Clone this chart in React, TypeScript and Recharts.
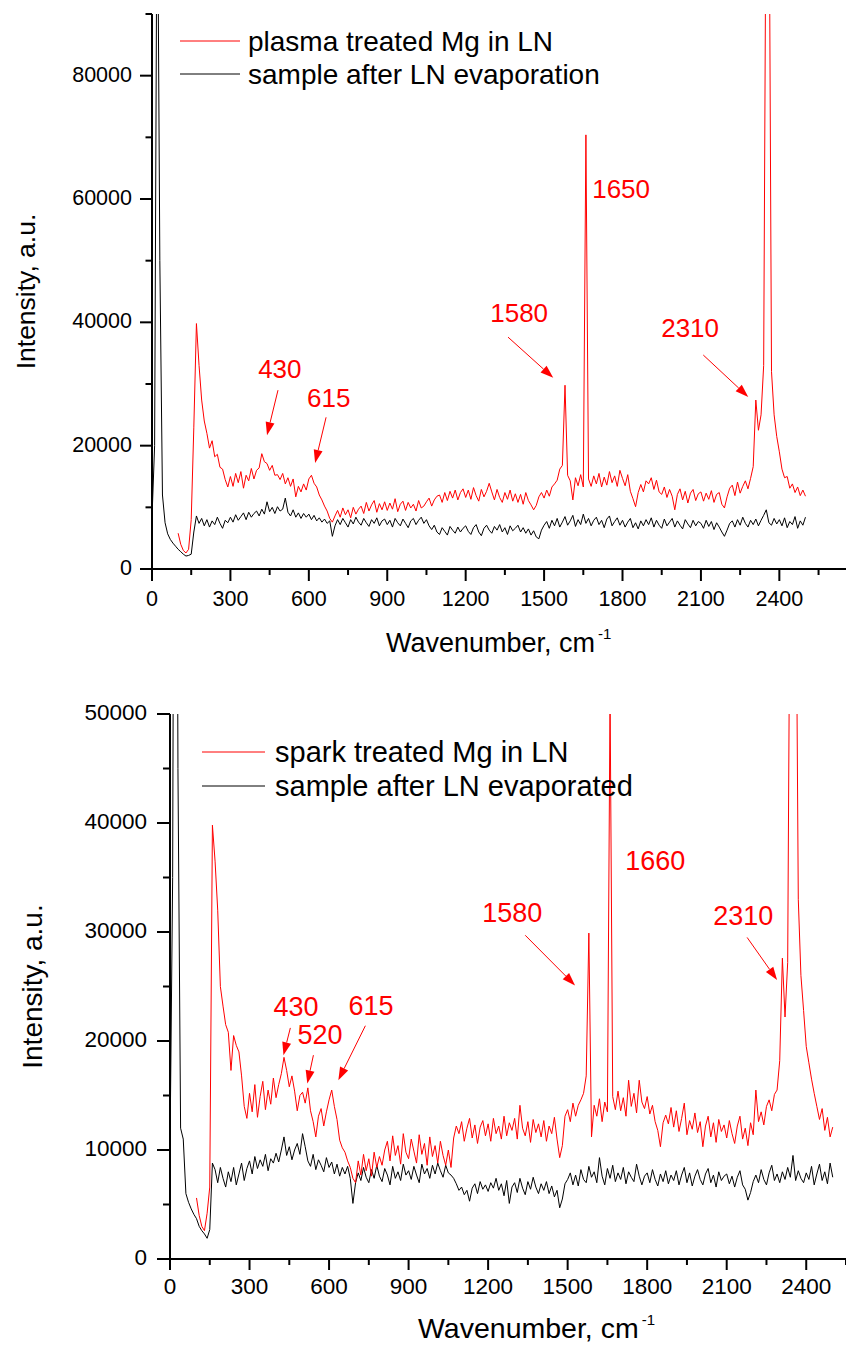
import { Legend, Line, LineChart, ReferenceDot, ReferenceLine, XAxis, YAxis } from "recharts";

const FONT = '"Liberation Sans", Arial, Helvetica, sans-serif';
const RED = "#ff0000";
const BLACK = "#000000";

// spectrometer grid, cm-1
const STEP = 10;
// intensities in the arrays are in hundreds of counts
const UNIT = 100;

// ---- upper panel: plasma treatment ----
const plasmaStart = 100;
const plasmaInLN = [
  58, 40, 30, 26, 32, 80, 230, 398, 330, 274,
  240, 220, 196, 208, 182, 186, 165, 162, 145, 133,
  150, 134, 155, 140, 158, 131, 152, 143, 163, 146,
  160, 164, 187, 174, 171, 160, 168, 152, 153, 145,
  155, 138, 148, 134, 146, 117, 134, 125, 138, 128,
  146, 152, 139, 133, 120, 112, 102, 94, 82, 76,
  86, 95, 84, 99, 88, 96, 83, 100, 89, 97,
  102, 90, 108, 94, 104, 111, 92, 106, 96, 109,
  95, 107, 97, 114, 93, 105, 110, 95, 108, 99,
  105, 94, 111, 99, 102, 109, 115, 102, 112, 118,
  120, 108, 124, 111, 126, 115, 128, 112, 124, 130,
  116, 128, 113, 132, 119, 110, 129, 117, 126, 139,
  125, 112, 129, 116, 108, 124, 113, 128, 110, 122,
  108, 121, 105, 124, 111, 104, 96, 103, 117, 124,
  115, 128, 118, 133, 138, 144, 162, 168, 298, 152,
  143, 112, 148, 135, 153, 133, 704, 146, 134, 151,
  138, 155, 133, 149, 136, 158, 140, 151, 134, 160,
  147, 135, 153, 126, 114, 101, 124, 137, 125, 143,
  138, 148, 129, 144, 125, 121, 133, 116, 129, 118,
  96, 121, 130, 112, 126, 107, 123, 129, 111, 122,
  125, 110, 123, 113, 127, 108, 121, 124, 105, 99,
  117, 131, 136, 119, 141, 123, 134, 143, 130, 147,
  166, 274, 225, 250, 330, 1200, 1200, 320, 250, 215,
  190, 162, 148, 150, 131, 138, 124, 133, 119, 128,
  118,
];

const plasmaDryStart = 0;
const plasmaDry = [
  83, 200, 1200, 500, 120, 75, 57, 48, 42, 37,
  32, 28, 24, 21, 22, 24, 60, 86, 74, 82,
  70, 80, 68, 78, 72, 84, 74, 66, 79, 75,
  84, 76, 88, 79, 85, 91, 80, 92, 84, 90,
  94, 86, 97, 89, 109, 93, 100, 90, 101, 94,
  97, 115, 92, 86, 96, 84, 91, 82, 90, 84,
  89, 80, 87, 78, 83, 76, 81, 74, 78, 53,
  70, 80, 72, 82, 75, 68, 80, 73, 84, 76,
  71, 82, 75, 69, 80, 74, 83, 70, 78, 81,
  72, 79, 68, 82, 75, 70, 81, 74, 67, 78,
  82, 72, 79, 84, 74, 80, 70, 64, 71, 60,
  56, 67, 61, 55, 69, 63, 58, 68, 60, 66,
  70, 61, 56, 67, 72, 60, 54, 66, 71, 63,
  58, 69, 63, 72, 60, 67, 56, 70, 62, 66,
  71, 60, 67, 58, 65, 55, 62, 52, 49, 63,
  71, 77, 66, 79, 70, 82, 68, 76, 85, 71,
  78, 87, 69, 80, 72, 89, 74, 82, 70, 79,
  84, 72, 79, 67, 81, 86, 70, 77, 83, 71,
  79, 68, 76, 82, 67, 75, 65, 78, 70, 80,
  72, 83, 68, 79, 71, 66, 81, 70, 76, 82,
  68, 78, 71, 65, 80, 73, 67, 79, 70, 77,
  74, 66, 79, 69, 77, 64, 75, 68, 60, 53,
  63, 74, 78, 68, 80, 71, 84, 74, 68, 79,
  72, 81, 70, 79, 87, 96, 75, 71, 82, 73,
  80, 70, 83, 67, 77, 72, 85, 66, 78, 71,
  84,
];

// ---- lower panel: spark treatment ----
const sparkStart = 100;
const sparkInLN = [
  56, 40, 30, 26, 42, 66, 398, 365, 320, 250,
  232, 215, 208, 173, 205, 196, 190, 168, 140, 129,
  152, 135, 160, 130, 149, 163, 137, 155, 142, 166,
  148, 160, 170, 185, 173, 158, 168, 154, 136, 150,
  153, 143, 157, 136, 126, 112, 131, 138, 122, 135,
  146, 155, 140, 128, 109, 102, 98, 90, 84, 74,
  70, 90, 77, 96, 81, 92, 76, 98, 84, 94,
  86, 100, 108, 90, 113, 95, 104, 87, 115, 98,
  92, 110, 99, 88, 114, 96, 106, 86, 112, 94,
  104, 88, 108, 95, 86, 100, 84, 111, 122, 115,
  126, 108, 120, 129, 111, 123, 106, 121, 127, 113,
  124, 108, 129, 115, 122, 110, 131, 113, 125, 118,
  129, 110, 141, 120, 113, 126, 107, 128, 116, 124,
  112, 127, 108, 122, 115, 130, 110, 93, 104, 131,
  137, 126, 143, 131, 141, 146, 152, 168, 299, 112,
  141, 131, 147, 126, 144, 135, 520, 149, 137, 154,
  136, 148, 131, 164, 140, 152, 134, 164, 144, 138,
  149, 133, 141, 126, 118, 103, 125, 132, 124, 139,
  121, 136, 117, 129, 143, 114, 127, 119, 134, 116,
  126, 103, 122, 131, 112, 125, 107, 128, 117, 123,
  111, 127, 115, 106, 122, 131, 110, 120, 104, 125,
  114, 155, 126, 135, 123, 140, 146, 136, 151, 155,
  182, 276, 222, 272, 700, 700, 700, 330, 260, 228,
  195, 180, 165, 152, 140, 128, 138, 118, 130, 112,
  121,
];

const sparkDryStart = 0;
const sparkDry = [
  100, 350, 1200, 450, 120, 110, 60, 52, 46, 41,
  37, 30, 26, 23, 19, 27, 88, 82, 70, 84,
  74, 66, 80, 71, 84, 68, 78, 88, 72, 83,
  90, 78, 94, 83, 91, 85, 96, 81, 92, 88,
  97, 89, 100, 112, 95, 103, 91, 100, 106, 96,
  115, 103, 90, 85, 96, 82, 91, 86, 80, 93,
  84, 89, 78, 87, 76, 84, 78, 85, 74, 51,
  70, 79, 72, 84, 75, 70, 82, 74, 86, 76,
  71, 83, 77, 68, 85, 74, 80, 72, 87, 77,
  81, 73, 85, 77, 70, 87, 78, 83, 74, 86,
  78, 88, 81, 75, 86, 79, 77, 74, 69, 63,
  66, 59, 63, 53, 65, 69, 60, 71, 64, 68,
  62, 70, 65, 74, 63, 69, 58, 72, 51, 66,
  70, 61, 74, 65, 59, 71, 64, 75, 66, 60,
  69, 63, 71, 60, 67, 57, 63, 47, 55, 69,
  73, 79, 68, 77, 67, 82, 73, 70, 85, 75,
  80, 70, 93, 76, 68, 83, 74, 86, 71, 79,
  73, 84, 69, 80, 75, 71, 87, 76, 68, 76,
  79, 70, 82, 73, 67, 78, 71, 81, 69, 77,
  72, 81, 68, 77, 84, 70, 79, 67, 76, 82,
  73, 68, 78, 83, 70, 77, 66, 80, 72, 76,
  78, 69, 76, 66, 75, 81, 68, 64, 54, 61,
  71, 77, 70, 82, 73, 68, 79, 86, 72, 78,
  70, 80, 73, 84, 75, 95, 72, 81, 74, 70,
  79, 73, 85, 68, 78, 87, 72, 80, 69, 88,
  75,
];

// ---- axes ----
const xTicks = [0, 150, 300, 450, 600, 750, 900, 1050, 1200, 1350, 1500, 1650, 1800, 1950, 2100, 2250, 2400, 2550];
const xMajorStep = 300;
const topYTicks = [0, 10000, 20000, 30000, 40000, 50000, 60000, 70000, 80000, 90000];
const topYMajorStep = 20000;
const bottomYTicks = [0, 5000, 10000, 15000, 20000, 25000, 30000, 35000, 40000, 45000, 50000];
const bottomYMajorStep = 10000;

type Note = { text: string; x: number; y: number; from?: [number, number]; to?: [number, number] };

const topNotes: Note[] = [
  { text: "430", x: 406, y: 31000, from: [482, 29000], to: [440, 21700] },
  { text: "615", x: 593, y: 26300, from: [666, 24600], to: [624, 17200] },
  { text: "1580", x: 1294, y: 40000, from: [1362, 37600], to: [1535, 31000] },
  { text: "1650", x: 1684, y: 60200 },
  { text: "2310", x: 1948, y: 37600, from: [2109, 34700], to: [2281, 27900] },
];

const bottomNotes: Note[] = [
  { text: "430", x: 390, y: 22300, from: [454, 21200], to: [428, 18700] },
  { text: "520", x: 481, y: 19700, from: [541, 18700], to: [518, 16100] },
  { text: "615", x: 673, y: 22400, from: [737, 21400], to: [635, 16400] },
  { text: "1580", x: 1178, y: 30900, from: [1340, 29700], to: [1528, 25100] },
  { text: "1660", x: 1717, y: 35700 },
  { text: "2310", x: 2049, y: 30600, from: [2177, 29500], to: [2290, 25600] },
];

function makeSeries(start: number, values: number[]) {
  return values.map((v, i) => ({ x: start + i * STEP, y: v * UNIT }));
}

function Arrow(props: any) {
  const { x1, y1, x2, y2 } = props;
  const dx = x2 - x1;
  const dy = y2 - y1;
  const len = Math.hypot(dx, dy) || 1;
  const ux = dx / len;
  const uy = dy / len;
  const hl = 13;
  const hw = 4.5;
  const bx = x2 - ux * hl;
  const by = y2 - uy * hl;
  const pts = `${x2},${y2} ${bx - uy * hw},${by + ux * hw} ${bx + uy * hw},${by - ux * hw}`;
  return (
    <g>
      <line x1={x1} y1={y1} x2={bx} y2={by} stroke={RED} strokeWidth={1} />
      <polygon points={pts} fill={RED} />
    </g>
  );
}

type PanelProps = {
  height: number;
  plotTop: number;
  yAxisW: number;
  xAxisH: number;
  xMax: number;
  yMax: number;
  yTicks: number[];
  yMajorStep: number;
  red: { x: number; y: number }[];
  black: { x: number; y: number }[];
  redName: string;
  blackName: string;
  notes: Note[];
  tickFont: number;
  noteFont: number;
  titleFont: number;
  yTitleFont: number;
  legendFont: number;
  legend: { x: number; y: number; gap: number; len: number; textGap: number };
  xTitle: { x: number; y: number };
  yTitleX: number;
  xTickLen: [number, number];
  yTickLen: [number, number];
  xLabelDy: number;
  yLabelDx: number;
};

const W = 846;

function SpectrumPanel(p: PanelProps) {
  const xTick = (t: any) => {
    const major = t.payload.value % xMajorStep === 0;
    const len = major ? p.xTickLen[0] : p.xTickLen[1];
    return (
      <g>
        <line x1={t.x} x2={t.x} y1={t.y} y2={t.y + len} stroke={BLACK} strokeWidth={2} />
        {major && (
          <text x={t.x} y={t.y + p.xLabelDy} textAnchor="middle" fontSize={p.tickFont} fontFamily={FONT} fill={BLACK}>
            {t.payload.value}
          </text>
        )}
      </g>
    );
  };

  const yTick = (t: any) => {
    const major = t.payload.value % p.yMajorStep === 0;
    const len = major ? p.yTickLen[0] : p.yTickLen[1];
    return (
      <g>
        <line x1={t.x - len} x2={t.x} y1={t.y} y2={t.y} stroke={BLACK} strokeWidth={2} />
        {major && (
          <text x={t.x - p.yLabelDx} y={t.y + 6} textAnchor="end" fontSize={p.tickFont} fontFamily={FONT} fill={BLACK}>
            {t.payload.value}
          </text>
        )}
      </g>
    );
  };

  const lg = p.legend;
  const legendItems = [
    { name: p.redName, color: RED },
    { name: p.blackName, color: BLACK },
  ];

  return (
    <LineChart width={W} height={p.height} margin={{ top: p.plotTop, right: 0, bottom: 0, left: 0 }}>
      <XAxis
        type="number"
        dataKey="x"
        domain={[0, p.xMax]}
        ticks={xTicks}
        interval={0}
        height={p.xAxisH}
        tickSize={0}
        tickMargin={0}
        tickLine={false}
        axisLine={{ stroke: BLACK, strokeWidth: 2 }}
        tick={xTick}
        label={{
          content: () => (
            <text x={p.xTitle.x} y={p.xTitle.y} fontSize={p.titleFont} fontFamily={FONT} fill={BLACK}>
              Wavenumber, cm
              <tspan dx={3} dy={-13} fontSize={15}>
                -1
              </tspan>
            </text>
          ),
        }}
      />
      <YAxis
        type="number"
        domain={[0, p.yMax]}
        allowDataOverflow
        ticks={p.yTicks}
        interval={0}
        width={p.yAxisW}
        tickSize={0}
        tickMargin={0}
        tickLine={false}
        axisLine={{ stroke: BLACK, strokeWidth: 2 }}
        tick={yTick}
        label={{
          content: (lp: any) => {
            const vb = lp.viewBox || {};
            const cy = (vb.y ?? 0) + (vb.height ?? 0) / 2;
            return (
              <text
                x={p.yTitleX}
                y={cy}
                transform={`rotate(-90 ${p.yTitleX} ${cy})`}
                textAnchor="middle"
                fontSize={p.yTitleFont}
                fontFamily={FONT}
                fill={BLACK}
              >
                Intensity, a.u.
              </text>
            );
          },
        }}
      />
      <Legend
        layout="horizontal"
        verticalAlign="middle"
        align="center"
        wrapperStyle={{ left: 0, top: 0, width: W, height: lg.y + lg.gap * 2 + 20, pointerEvents: "none" }}
        content={() => (
          <svg width={W} height={lg.y + lg.gap * 2 + 20} style={{ display: "block" }}>
            {legendItems.map((it, i) => (
              <g key={it.name}>
                <line x1={lg.x} x2={lg.x + lg.len} y1={lg.y + i * lg.gap} y2={lg.y + i * lg.gap} stroke={it.color} strokeWidth={1} />
                <text x={lg.x + lg.len + lg.textGap} y={lg.y + i * lg.gap + 10} fontSize={p.legendFont} fontFamily={FONT} fill={BLACK}>
                  {it.name}
                </text>
              </g>
            ))}
          </svg>
        )}
      />
      <Line
        data={p.black}
        dataKey="y"
        name={p.blackName}
        type="linear"
        stroke={BLACK}
        strokeWidth={1}
        dot={false}
        activeDot={false}
        isAnimationActive={false}
      />
      <Line
        data={p.red}
        dataKey="y"
        name={p.redName}
        type="linear"
        stroke={RED}
        strokeWidth={1}
        dot={false}
        activeDot={false}
        isAnimationActive={false}
      />
      {p.notes
        .filter((n) => n.from && n.to)
        .map((n) => (
          <ReferenceLine
            key={`a-${n.text}`}
            segment={[
              { x: n.from![0], y: n.from![1] },
              { x: n.to![0], y: n.to![1] },
            ]}
            shape={Arrow}
          />
        ))}
      {p.notes.map((n) => (
        <ReferenceDot
          key={`t-${n.text}`}
          x={n.x}
          y={n.y}
          r={0}
          shape={(d: any) => (
            <text x={d.cx} y={d.cy} fontSize={p.noteFont} fontFamily={FONT} fill={RED}>
              {n.text}
            </text>
          )}
        />
      ))}
    </LineChart>
  );
}

export default function App() {
  return (
    <div style={{ position: "absolute", left: 0, top: 0, width: W, height: 1346, background: "#fff" }}>
      <div style={{ position: "absolute", left: 0, top: 0 }}>
        <SpectrumPanel
          height={660}
          plotTop={14}
          yAxisW={152}
          xAxisH={91}
          xMax={2655}
          yMax={90000}
          yTicks={topYTicks}
          yMajorStep={topYMajorStep}
          red={makeSeries(plasmaStart, plasmaInLN)}
          black={makeSeries(plasmaDryStart, plasmaDry)}
          redName="plasma treated Mg in LN"
          blackName="sample after LN evaporation"
          notes={topNotes}
          tickFont={21.5}
          noteFont={26}
          titleFont={27}
          yTitleFont={26.5}
          legendFont={28}
          legend={{ x: 180, y: 41, gap: 33, len: 60, textGap: 8 }}
          xTitle={{ x: 386, y: 652 }}
          yTitleX={35}
          xTickLen={[12, 6]}
          yTickLen={[12, 6.5]}
          xLabelDy={37}
          yLabelDx={20}
        />
      </div>
      <div style={{ position: "absolute", left: 0, top: 660 }}>
        <SpectrumPanel
          height={686}
          plotTop={54}
          yAxisW={170}
          xAxisH={87}
          xMax={2550}
          yMax={50000}
          yTicks={bottomYTicks}
          yMajorStep={bottomYMajorStep}
          red={makeSeries(sparkStart, sparkInLN)}
          black={makeSeries(sparkDryStart, sparkDry)}
          redName="spark treated Mg in LN"
          blackName="sample after LN evaporated"
          notes={bottomNotes}
          tickFont={22.5}
          noteFont={27}
          titleFont={28.5}
          yTitleFont={28}
          legendFont={29}
          legend={{ x: 202, y: 92, gap: 34, len: 63, textGap: 10 }}
          xTitle={{ x: 418, y: 678 }}
          yTitleX={41.5}
          xTickLen={[11, 6]}
          yTickLen={[13, 7]}
          xLabelDy={35}
          yLabelDx={23}
        />
      </div>
    </div>
  );
}
